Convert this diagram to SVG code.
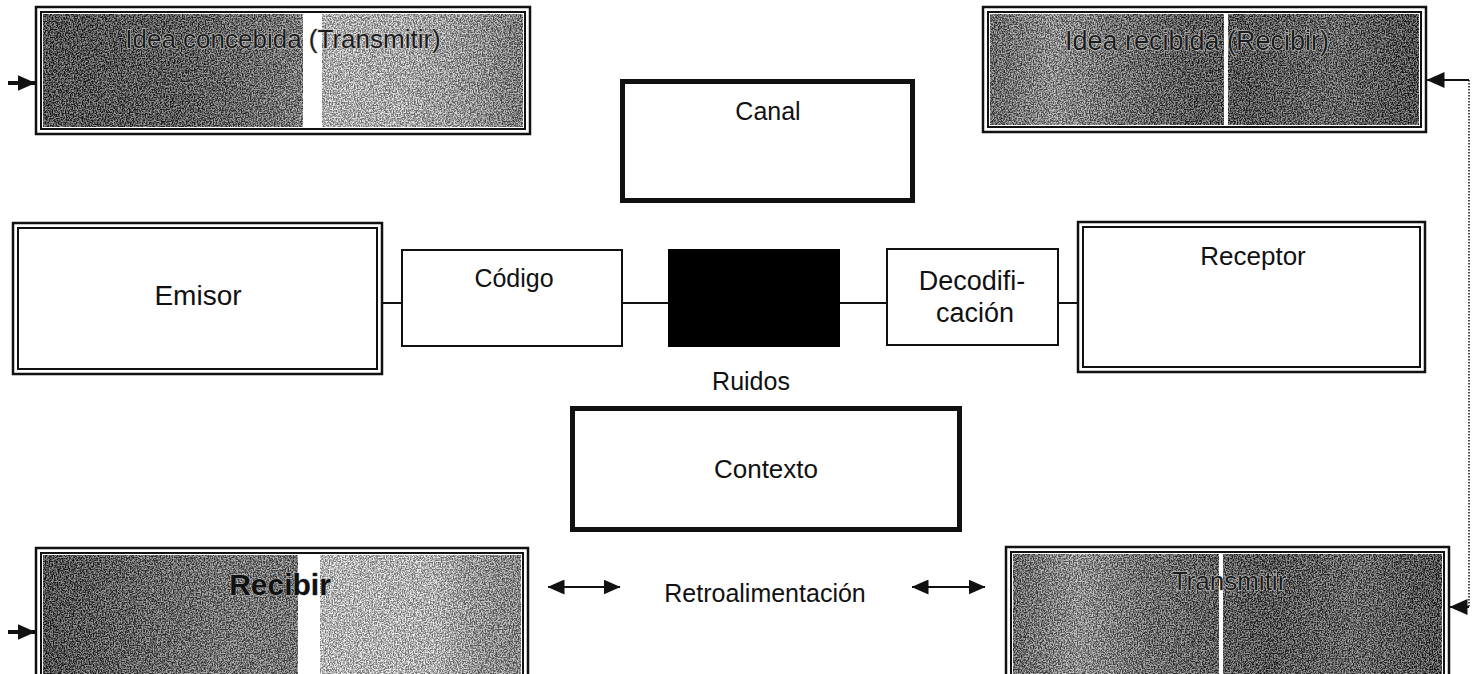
<svg xmlns="http://www.w3.org/2000/svg" width="1482" height="674" viewBox="0 0 1482 674">
<style>
  text { font-family: "Liberation Sans", Arial, sans-serif; fill: #111; text-anchor: middle; }
  .box { fill: #fff; stroke: #111; stroke-width: 2; }
  .thick { fill: #fff; stroke: #111; stroke-width: 5; }
  .outer { fill: none; stroke: #111; stroke-width: 2.5; }
  .inner { fill: none; stroke: #111; stroke-width: 2; }
  .conn { stroke: #111; stroke-width: 2; fill: none; }
  .arr { stroke: #111; stroke-width: 4; fill: none; }
  .tex { stroke: #cfcfcf; stroke-width: 1.2; paint-order: stroke; fill: #1c1c1c; }
  .band { fill: #fff; }
</style>
<defs>
  <marker id="ah" viewBox="0 0 18 16" refX="17.5" refY="8" markerWidth="18" markerHeight="16" markerUnits="userSpaceOnUse" orient="auto-start-reverse">
    <path d="M0,0 L18,8 L0,16 z" fill="#111"/>
  </marker>
  <marker id="ahs" viewBox="0 0 17 15" refX="16.5" refY="7.5" markerWidth="17" markerHeight="15" markerUnits="userSpaceOnUse" orient="auto-start-reverse">
    <path d="M0,0 L17,7.5 L0,15 z" fill="#111"/>
  </marker>
  <filter id="noise" x="0" y="0" width="1" height="1" color-interpolation-filters="sRGB">
    <feTurbulence type="fractalNoise" baseFrequency="0.75" numOctaves="2" seed="4" result="t"/>
    <feColorMatrix in="t" type="matrix" values="3.2 0 0 0 -1.1  3.2 0 0 0 -1.1  3.2 0 0 0 -1.1  0 0 0 0 0.5" result="g"/>
    <feComposite in="g" in2="SourceAlpha" operator="in"/>
  </filter>
  <linearGradient id="gTL" x1="0" y1="0" x2="1" y2="0">
    <stop offset="0" stop-color="#222"/>
    <stop offset="0.3" stop-color="#363636"/>
    <stop offset="0.45" stop-color="#555"/>
    <stop offset="0.54" stop-color="#707070"/>
    <stop offset="0.59" stop-color="#d8d8d8"/>
    <stop offset="0.75" stop-color="#cfcfcf"/>
    <stop offset="0.88" stop-color="#aaa"/>
    <stop offset="1" stop-color="#707070"/>
  </linearGradient>
  <linearGradient id="gBL" x1="0" y1="0" x2="1" y2="0">
    <stop offset="0" stop-color="#1e1e1e"/>
    <stop offset="0.25" stop-color="#505050"/>
    <stop offset="0.4" stop-color="#6a6a6a"/>
    <stop offset="0.53" stop-color="#666"/>
    <stop offset="0.58" stop-color="#e8e8e8"/>
    <stop offset="0.82" stop-color="#dedede"/>
    <stop offset="0.9" stop-color="#a8a8a8"/>
    <stop offset="1" stop-color="#888"/>
  </linearGradient>
  <linearGradient id="gTR" x1="0" y1="0" x2="1" y2="0">
    <stop offset="0" stop-color="#505050"/>
    <stop offset="0.15" stop-color="#959595"/>
    <stop offset="0.3" stop-color="#606060"/>
    <stop offset="0.45" stop-color="#363636"/>
    <stop offset="0.6" stop-color="#2a2a2a"/>
    <stop offset="0.8" stop-color="#484848"/>
    <stop offset="1" stop-color="#1e1e1e"/>
  </linearGradient>
  <linearGradient id="gBR" x1="0" y1="0" x2="1" y2="0">
    <stop offset="0" stop-color="#505050"/>
    <stop offset="0.15" stop-color="#9a9a9a"/>
    <stop offset="0.3" stop-color="#606060"/>
    <stop offset="0.48" stop-color="#3c3c3c"/>
    <stop offset="0.6" stop-color="#2a2a2a"/>
    <stop offset="0.8" stop-color="#4a4a4a"/>
    <stop offset="1" stop-color="#1e1e1e"/>
  </linearGradient>
</defs>

<g id="idea-concebida">
  <rect x="43" y="14" width="480" height="113" fill="url(#gTL)"/>
  <rect x="43" y="14" width="480" height="113" fill="#000" filter="url(#noise)"/>
  <rect class="band" x="303" y="14" width="19" height="113"/>
  <rect class="outer" x="36" y="7" width="494" height="127"/>
  <rect class="inner" x="41" y="12" width="484" height="117"/>
  <text class="tex" x="283" y="48" font-size="26">Idea concebida (Transmitir)</text>
</g>

<g id="idea-recibida">
  <rect x="990" y="14" width="429" height="111" fill="url(#gTR)"/>
  <rect x="990" y="14" width="429" height="111" fill="#000" filter="url(#noise)"/>
  <rect class="band" x="1224" y="14" width="4" height="111"/>
  <rect class="outer" x="983" y="7" width="443" height="125"/>
  <rect class="inner" x="988" y="12" width="433" height="115"/>
  <text class="tex" x="1197" y="50" font-size="27">Idea recibida (Recibir)</text>
</g>

<g id="canal">
  <rect class="thick" x="622.5" y="81.5" width="290" height="119"/>
  <text x="768" y="120" font-size="25">Canal</text>
</g>

<g id="emisor">
  <rect class="outer" x="13" y="223" width="369" height="151" fill="#fff"/>
  <rect class="inner" x="18" y="228" width="359" height="141"/>
  <text x="198" y="305" font-size="28">Emisor</text>
</g>

<g id="codigo">
  <rect class="box" x="402" y="250" width="220" height="96"/>
  <text x="514" y="287" font-size="25">Código</text>
</g>

<g id="ruido-bloque">
  <rect x="668" y="249" width="172" height="98" fill="#000"/>
</g>

<g id="decodificacion">
  <rect class="box" x="887" y="249" width="171" height="96"/>
  <text x="972" y="290" font-size="27">Decodifi-</text>
  <text x="975" y="322" font-size="27">cación</text>
</g>

<g id="receptor">
  <rect class="outer" x="1078" y="222" width="347" height="150" fill="#fff"/>
  <rect class="inner" x="1083" y="227" width="337" height="140"/>
  <text x="1253" y="265" font-size="26">Receptor</text>
</g>

<g id="ruidos">
  <text x="751" y="390" font-size="25">Ruidos</text>
</g>

<g id="contexto">
  <rect class="thick" x="572.5" y="408.5" width="387" height="121"/>
  <text x="766" y="478" font-size="26">Contexto</text>
</g>

<g id="recibir">
  <rect x="43" y="555" width="478" height="125" fill="url(#gBL)"/>
  <rect x="43" y="555" width="478" height="125" fill="#000" filter="url(#noise)"/>
  <rect class="band" x="298" y="555" width="22" height="125"/>
  <rect class="outer" x="36" y="548" width="492" height="140"/>
  <rect class="inner" x="41" y="553" width="482" height="130"/>
  <text x="280" y="595" font-size="30" font-weight="bold" fill="#1a1a1a" stroke="#bbb" stroke-width="0.8" paint-order="stroke">Recibir</text>
</g>

<g id="retroalimentacion">
  <text x="765" y="602" font-size="25">Retroalimentación</text>
</g>

<g id="transmitir">
  <rect x="1013" y="554" width="429" height="125" fill="url(#gBR)"/>
  <rect x="1013" y="554" width="429" height="125" fill="#000" filter="url(#noise)"/>
  <rect class="band" x="1219" y="554" width="4" height="125"/>
  <rect class="outer" x="1006" y="547" width="443" height="140"/>
  <rect class="inner" x="1011" y="552" width="433" height="130"/>
  <text class="tex" x="1229" y="590" font-size="26">Transmitir</text>
</g>

<g id="connectors">
  <line class="conn" x1="382" y1="303" x2="402" y2="303"/>
  <line class="conn" x1="622" y1="303" x2="668" y2="303"/>
  <line class="conn" x1="840" y1="303" x2="887" y2="303"/>
  <line class="conn" x1="1058" y1="303" x2="1078" y2="303"/>
  <line class="arr" x1="8" y1="83" x2="35" y2="83" marker-end="url(#ah)"/>
  <line class="arr" x1="8" y1="632" x2="35" y2="632" marker-end="url(#ah)"/>
  <line class="conn" x1="1469" y1="80" x2="1427" y2="80" marker-end="url(#ah)"/>
  <line x1="1469" y1="80" x2="1469" y2="608" stroke="#111" stroke-width="1.5" stroke-dasharray="1.5 1.5"/>
  <line class="conn" x1="1469" y1="607" x2="1450" y2="607" marker-end="url(#ah)"/>
  <line class="conn" x1="548" y1="587" x2="620" y2="587" marker-start="url(#ahs)" marker-end="url(#ahs)"/>
  <line class="conn" x1="912" y1="587" x2="985" y2="587" marker-start="url(#ahs)" marker-end="url(#ahs)"/>
</g>
</svg>
